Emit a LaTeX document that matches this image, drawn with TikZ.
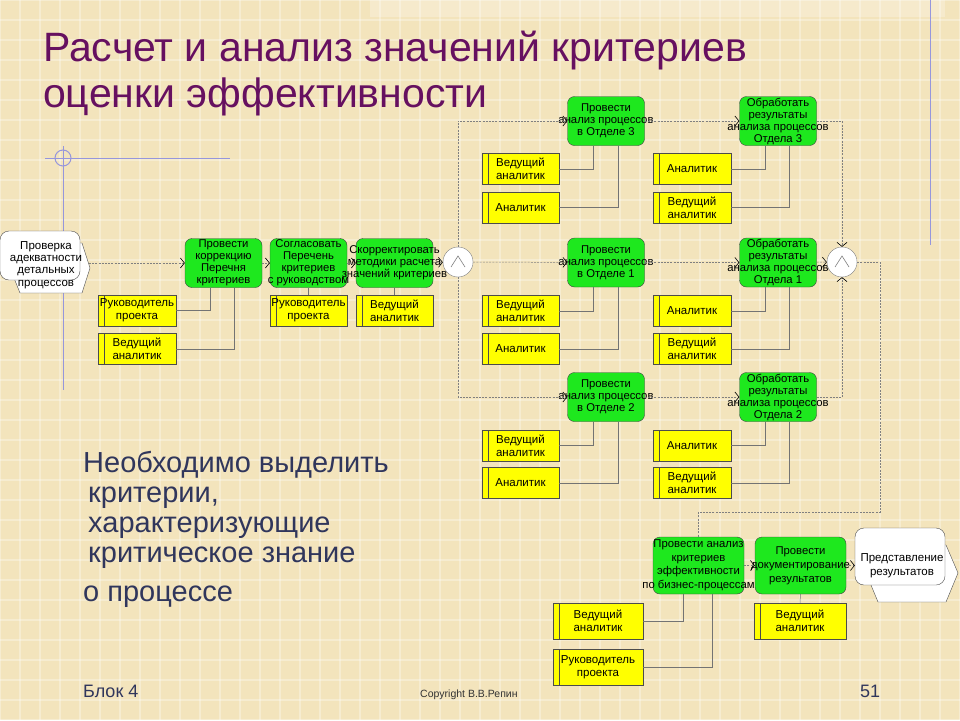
\documentclass[tikz,border=0pt]{standalone}
\usepackage{fontspec}
\setmainfont{Liberation Sans}
\usetikzlibrary{arrows.meta}
\definecolor{parch}{RGB}{243,228,188}
\definecolor{titlecol}{RGB}{102,16,96}
\definecolor{bodycol}{RGB}{48,54,92}
\definecolor{decocol}{RGB}{150,150,220}
\definecolor{fgreen}{RGB}{30,232,30}
\definecolor{ryellow}{RGB}{255,255,0}
\definecolor{linecol}{RGB}{128,128,128}

\begin{document}
\begin{tikzpicture}[x=1pt,y=-1pt,
    func/.style={draw=black!75, fill=fgreen, rounded corners=7pt, minimum width=77pt, minimum height=49pt, inner sep=0pt},
    ftext/.style={font=\fontsize{11.3}{12}\selectfont, align=center, inner sep=0pt},
    role/.style={draw=black!70, fill=ryellow, minimum width=78pt, minimum height=31pt, inner sep=0pt,
        font=\fontsize{11.5}{13}\selectfont, align=center,
        path picture={\draw[black!70] ([xshift=6pt]path picture bounding box.north west) -- ([xshift=6pt]path picture bounding box.south west);}},
    evbox/.style={draw=black!70, fill=white, rounded corners=9pt, inner sep=0pt},
    andop/.style={circle, draw=linecol, fill=white, minimum size=30pt, inner sep=0pt},
    flow/.style={draw=linecol, line width=0.5pt, dash pattern=on 2pt off 1.2pt,
        -{Straight Barb[length=4pt,width=10pt,line width=0.6pt,color=black]}},
    flowline/.style={draw=linecol, line width=0.5pt, dash pattern=on 2pt off 1.2pt},
    link/.style={draw=black!55, line width=0.5pt},
    deco/.style={draw=decocol, line width=1pt},
    slidetext/.style={anchor=base west, inner sep=0pt, text=bodycol, font=\fontsize{29}{32}\selectfont}]

    % background
    \useasboundingbox (0,0) rectangle (960,720);
    \fill[parch] (0,0) rectangle (960,720);
    \foreach \x in {0,20,...,960}
        \draw[white, opacity=0.3, line width=1.2pt] (\x,0) -- (\x,720);
    \foreach \y in {0,20,...,720}
        \draw[white, opacity=0.3, line width=1.2pt] (0,\y) -- (960,\y);
    \fill[white, opacity=0.25] (370,0) rectangle (945,17);

    % slide decoration
    \draw[deco] (930,0) -- (930,245);
    \draw[deco] (45,158) -- (230,158);
    \draw[deco] (63,146) -- (63,390);
    \draw[deco] (63,158) circle (8);

    % title
    \node[anchor=base west, inner sep=0pt, text=titlecol, font=\fontsize{41}{44}\selectfont] (title1) at (43,61) {Расчет и анализ значений критериев};
    \node[anchor=base west, inner sep=0pt, text=titlecol, font=\fontsize{41}{44}\selectfont] (title2) at (43,107) {оценки эффективности};

    % events
    \draw[draw=black!70, fill=white] (10,268) -- (20,243) -- (82,243) -- (90,268) -- (82,293) -- (20,293) -- cycle;
    \node[evbox, minimum width=80pt, minimum height=49pt] (ev1) at (40,255.5) {};
    \node[ftext, font=\fontsize{11.5}{12.3}\selectfont] (ev1t) at (46,265) {Проверка\\адекватности\\детальных\\процессов};
    \coordinate (ev1out) at (89,263);

    \draw[draw=black!70, fill=white] (866,573) -- (870,545) -- (946,545) -- (958,573) -- (946,602) -- (878,602) -- cycle;
    \node[evbox, minimum width=90pt, minimum height=57pt] (ev2) at (900,556.5) {};
    \node[ftext, font=\fontsize{11.5}{14}\selectfont] (ev2t) at (902,565.5) {Представление\\результатов};

    % functions
    \node[func, label={[ftext]center:{Провести\\коррекцию\\Перечня\\критериев}}] (f1) at (223.5,263) {};
    \node[func, label={[ftext]center:{Согласовать\\Перечень\\критериев\\с руководством}}] (f2) at (308.5,263) {};
    \node[func, label={[ftext]center:{Скорректировать\\методики расчета\\значений критериев}}] (f3) at (394.5,263) {};

    \node[func, label={[ftext]center:{Провести\\анализ процессов\\в Отделе 3}}] (fa3) at (606,121) {};
    \node[func, label={[ftext]center:{Провести\\анализ процессов\\в Отделе 1}}] (fa1) at (606,262.5) {};
    \node[func, label={[ftext]center:{Провести\\анализ процессов\\в Отделе 2}}] (fa2) at (606,397) {};

    \node[func, label={[ftext]center:{Обработать\\результаты\\анализа процессов\\Отдела 3}}] (fb3) at (778,121) {};
    \node[func, label={[ftext]center:{Обработать\\результаты\\анализа процессов\\Отдела 1}}] (fb1) at (778,262.5) {};
    \node[func, label={[ftext]center:{Обработать\\результаты\\анализа процессов\\Отдела 2}}] (fb2) at (778,397) {};

    \node[func, minimum width=91pt, minimum height=57pt, label={[ftext, font=\fontsize{11.3}{13.5}\selectfont]center:{Провести анализ\\критериев\\эффективности\\по бизнес-процессам}}] (fe) at (698.5,565.5) {};
    \node[func, minimum width=91pt, minimum height=57pt, label={[ftext, font=\fontsize{11.3}{14}\selectfont]center:{Провести\\документирование\\результатов}}] (fd) at (800.5,565.5) {};

    % AND operators
    \node[andop] (and1) at (458,262) {};
    \node[andop] (and2) at (842,262) {};
    \foreach \op in {and1,and2}
        \draw[linecol, line width=0.6pt] (\op.center) +(-7,5) -- +(0,-6) -- +(7,5);

    % roles
    \node[role] (r1) at (137,310.5) {Руководитель\\проекта};
    \node[role] (r2) at (137,349) {Ведущий\\аналитик};
    \node[role, minimum width=77pt] (r3) at (308.5,310.5) {Руководитель\\проекта};
    \node[role, minimum width=77pt] (r4) at (394.5,310.5) {Ведущий\\аналитик};

    \node[role, minimum width=77pt] (ra3v) at (520.5,169) {Ведущий\\аналитик};
    \node[role, minimum width=77pt] (ra3a) at (520.5,207.5) {Аналитик};
    \node[role] (rb3a) at (692,169) {Аналитик};
    \node[role] (rb3v) at (692,207.5) {Ведущий\\аналитик};

    \node[role, minimum width=77pt] (ra1v) at (520.5,311) {Ведущий\\аналитик};
    \node[role, minimum width=77pt] (ra1a) at (520.5,349) {Аналитик};
    \node[role] (rb1a) at (692,311) {Аналитик};
    \node[role] (rb1v) at (692,349) {Ведущий\\аналитик};

    \node[role, minimum width=77pt] (ra2v) at (520.5,445.5) {Ведущий\\аналитик};
    \node[role, minimum width=77pt] (ra2a) at (520.5,483) {Аналитик};
    \node[role] (rb2a) at (692,445.5) {Аналитик};
    \node[role] (rb2v) at (692,483) {Ведущий\\аналитик};

    \node[role, minimum width=90pt, minimum height=36pt] (re1) at (598,621) {Ведущий\\аналитик};
    \node[role, minimum width=90pt, minimum height=36pt] (re2) at (598,667) {Руководитель\\проекта};
    \node[role, minimum width=92pt, minimum height=36pt] (rd1) at (800,621) {Ведущий\\аналитик};

    % role links
    \draw[link] ([xshift=-13.5pt]f1.south) |- (r1.east);
    \draw[link] ([xshift=10.5pt]f1.south) |- (r2.east);
    \draw[link] (f2.south) -- (r3.north);
    \draw[link] (f3.south) -- (r4.north);
    \foreach \n in {3,1,2} {
        \draw[link] ([xshift=-13pt]fa\n.south) |- (ra\n v.east);
        \draw[link] ([xshift=12pt]fa\n.south) |- (ra\n a.east);
        \draw[link] ([xshift=-13pt]fb\n.south) |- (rb\n a.east);
        \draw[link] ([xshift=11pt]fb\n.south) |- (rb\n v.east);
    }
    \draw[link] ([xshift=-15.5pt]fe.south) |- (re1.east);
    \draw[link] ([xshift=13.5pt]fe.south) |- (re2.east);
    \draw[link] (fd.south) -- (rd1.north);

    % control flow
    \draw[flow] (ev1out) -- (f1.west);
    \draw[flow] (f1) -- (f2);
    \draw[flow] (f2) -- (f3);
    \draw[flow] (f3) -- (and1);
    \draw[flow] (and1.north) |- (fa3.west);
    \draw[flow] (and1) -- (fa1);
    \draw[flow] (and1.south) |- (fa2.west);
    \foreach \n in {3,1,2}
        \draw[flow] (fa\n) -- (fb\n);
    \draw[flow] (fb3.east) -| (and2.north);
    \draw[flow] (fb1) -- (and2);
    \draw[flow] (fb2.east) -| (and2.south);
    \coordinate (turn) at (880,512);
    \draw[flowline] (and2.east) -| (turn) -| (fe.north);
    \draw[flow] (fe) -- (fd);
    \draw[flow] (fd.east) -- (fd.east -| ev2.west);

    % slide text
    \node[slidetext] (b1) at (83,472) {Необходимо выделить};
    \node[slidetext] (b2) at (88,502) {критерии,};
    \node[slidetext] (b3) at (88,532) {характеризующие};
    \node[slidetext] (b4) at (88,562) {критическое знание};
    \node[slidetext] (b5) at (83,601) {о процессе};

    % footer
    \node[anchor=base west, inner sep=0pt, text=bodycol, font=\fontsize{18}{20}\selectfont] (blk) at (83,697) {Блок 4};
    \node[anchor=base west, inner sep=0pt, text=black!80, font=\fontsize{10.5}{12}\selectfont] (copy) at (420,697) {Copyright В.В.Репин};
    \node[anchor=base west, inner sep=0pt, text=bodycol, font=\fontsize{18}{20}\selectfont] (pg) at (860,697) {51};
\end{tikzpicture}
\end{document}
